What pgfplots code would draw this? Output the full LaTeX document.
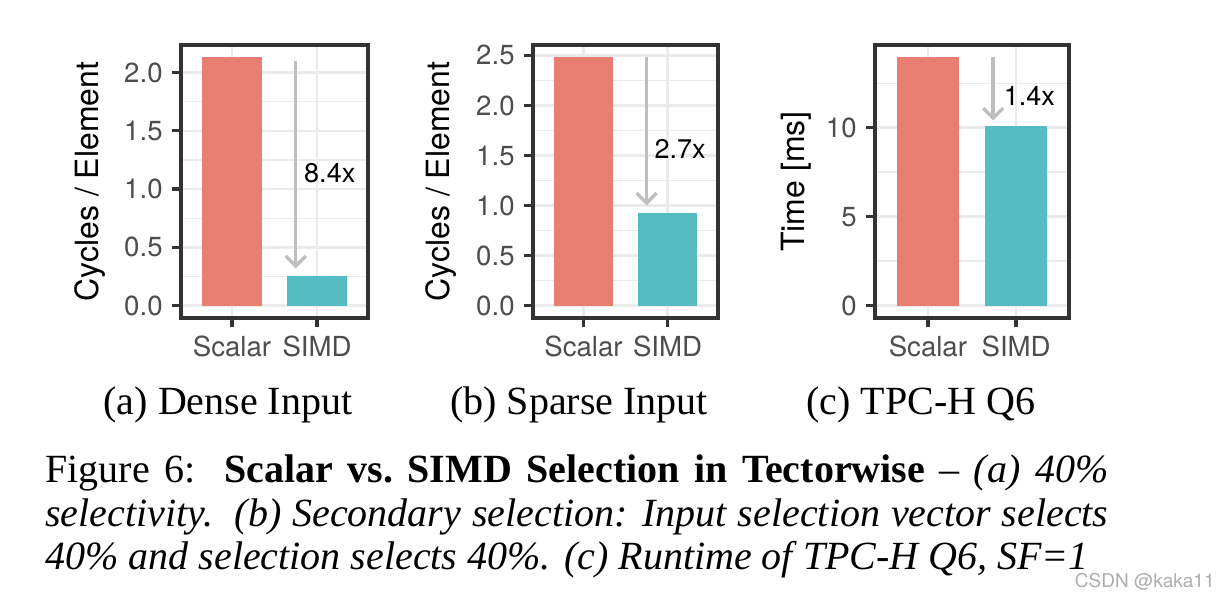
\documentclass[border=0pt]{standalone}
\usepackage{pgfplots}
\pgfplotsset{compat=1.18}
\usetikzlibrary{arrows.meta}
\usepackage{fontspec}
\setmainfont{Liberation Serif}
\newfontfamily\hv{TeX Gyre Heros}

\definecolor{salmon}{HTML}{E87D72}
\definecolor{simdcol}{HTML}{55BCC2}
\definecolor{gray92}{HTML}{EBEBEB}
\definecolor{gray20}{HTML}{333333}
\definecolor{gray30}{HTML}{4D4D4D}
\definecolor{arrowgray}{HTML}{BEBEBE}

\pgfplotsset{
  panel/.style={
    scale only axis, anchor=south west, height=136.5pt,
    xmin=0.4, xmax=2.6, xtick={1,2}, xticklabels={Scalar,SIMD},
    xmajorgrids, ymajorgrids, yminorgrids,
    major grid style={draw=gray92, line width=1.3pt},
    minor grid style={draw=gray92, line width=0.7pt},
    axis line style={draw=gray20, line width=1.6pt},
    major tick style={draw=gray20, line width=1.6pt},
    major tick length=4.5pt, minor tick length=0pt,
    tick align=outside, tick pos=left,
    /pgf/number format/assume math mode=true,
    ticklabel style={font=\hv\fontsize{13.8}{16}\selectfont, text=gray30, inner sep=0pt},
    yticklabel style={xshift=-4.5pt},
    xticklabel style={yshift=-4pt},
    label style={font=\hv\fontsize{16}{19}\selectfont, text=black},
  },
  onedec/.style={yticklabel style={/pgf/number format/fixed,
    /pgf/number format/fixed zerofill, /pgf/number format/precision=1}},
  scalarbar/.style={ybar, bar width=0.7, bar shift=0pt, fill=salmon, draw=none},
  simdbar/.style={ybar, bar width=0.7, bar shift=0pt, fill=simdcol, draw=none},
}
\tikzset{
  speedup/.style={draw=arrowgray, line width=1.7pt,
    -{Straight Barb[length=5pt, width=10pt, line width=1.7pt]}},
  ratio/.style={font=\hv\fontsize{13.5}{16}\selectfont, inner sep=0pt},
}

\begin{document}
\begin{tikzpicture}
\useasboundingbox (0,0) rectangle (616pt,301pt);

% (a) dense input
\begin{axis}[panel, onedec, at={(90.5pt,142pt)}, width=93.5pt,
  ymin=-0.1065, ymax=2.2365, ytick={0,0.5,1,1.5,2},
  minor ytick={0.25,0.75,1.25,1.75},
  ylabel={Cycles / Element},
  ylabel style={at={(axis description cs:-0.484,0.5)}, anchor=center}]
\addplot[scalarbar] coordinates {(1,2.13)};
\addplot[simdbar] coordinates {(2,0.254)};
\draw[speedup] (axis cs:1.75,2.10) -- (axis cs:1.75,0.32);
\node[ratio] at (axis cs:2.15,1.14) {8.4x};
\end{axis}

% (b) sparse input
\begin{axis}[panel, onedec, at={(266.5pt,142pt)}, width=92.5pt,
  ymin=-0.124, ymax=2.604, ytick={0,0.5,1,1.5,2,2.5},
  minor ytick={0.25,0.75,1.25,1.75,2.25},
  ylabel={Cycles / Element},
  ylabel style={at={(axis description cs:-0.495,0.5)}, anchor=center}]
\addplot[scalarbar] coordinates {(1,2.48)};
\addplot[simdbar] coordinates {(2,0.93)};
\draw[speedup] (axis cs:1.75,2.48) -- (axis cs:1.75,1.0);
\node[ratio] at (axis cs:2.15,1.57) {2.7x};
\end{axis}

% (c) TPC-H Q6
\begin{axis}[panel, at={(437.5pt,142pt)}, width=97pt,
  ymin=-0.6975, ymax=14.6475, ytick={0,5,10},
  minor ytick={2.5,7.5,12.5},
  ylabel={Time [ms]},
  ylabel style={at={(axis description cs:-0.407,0.5)}, anchor=center}]
\addplot[scalarbar] coordinates {(1,13.95)};
\addplot[simdbar] coordinates {(2,10.09)};
\draw[speedup] (axis cs:1.74,13.95) -- (axis cs:1.74,10.4);
\node[ratio] at (axis cs:2.15,11.8) {1.4x};
\end{axis}

\node[anchor=base] at (114pt,93.8pt) {\fontsize{20}{24}\selectfont (a) Dense Input};
\node[anchor=base] at (289.5pt,93.8pt) {\fontsize{20}{24}\selectfont (b) Sparse Input};
\node[anchor=base] at (460.5pt,93.8pt) {\fontsize{20}{24}\selectfont (c) TPC-H Q6};

\node[anchor=base west, inner sep=0pt] at (22.5pt,59.65pt) {\parbox[t]{531.5pt}{%
  \fontsize{20}{21.75}\selectfont
  Figure 6:\ \ \textbf{Scalar vs.\ SIMD Selection in Tectorwise} -- \textit{(a) 40\%}\linebreak
  \textit{selectivity.\ \ (b) Secondary selection: Input selection vector selects}\linebreak
  \textit{40\% and selection selects 40\%. (c) Runtime of TPC-H Q6, SF=1}}};

\node[anchor=base east, inner sep=0pt, text=black!32] at (607.5pt,7.5pt)
  {\hv\fontsize{9.5}{11}\selectfont CSDN @kaka11};
\end{tikzpicture}
\end{document}
